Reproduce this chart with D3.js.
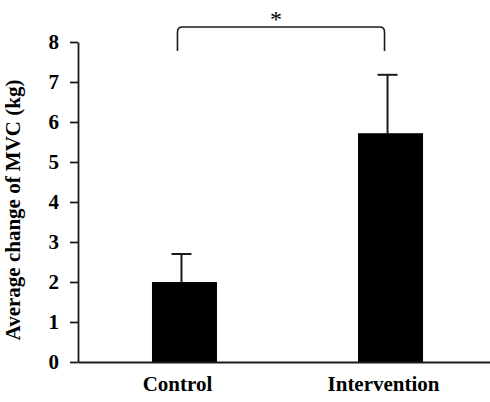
<!DOCTYPE html>
<html>
<head>
<meta charset="utf-8">
<script src="https://cdn.jsdelivr.net/npm/d3@7"></script>
<style>
  body { margin: 0; background: #fff; }
  svg text { font-family: "Liberation Serif", "Times New Roman", serif; }
</style>
</head>
<body>
<div id="chart"></div>
<script>
// chart data
const groups = ["Control", "Intervention"];
const means = [2.0, 5.72];
const errors = [0.7, 1.46];
const yTicks = [0, 1, 2, 3, 4, 5, 6, 7, 8];
const yLabel = "Average change of MVC (kg)";
const sigMark = "*";

const width = 490;
const height = 402;
const marginLeft = 78;
const marginTop = 42;
const marginBottom = 40;

const svg = d3.select("#chart")
    .append("svg")
    .attr("width", width)
    .attr("height", height)
    .attr("viewBox", [0, 0, width, height]);

const x = d3.scaleBand(groups, [marginLeft, 497])
    .paddingInner(0.6845)
    .paddingOuter(0.359);
const y = d3.scaleLinear([0, 8], [height - marginBottom, marginTop]);

// bars
svg.append("g")
    .selectAll("rect")
    .data(groups)
    .join("rect")
    .attr("x", d => x(d))
    .attr("y", (d, i) => y(means[i]))
    .attr("width", x.bandwidth())
    .attr("height", (d, i) => y(0) - y(means[i]))
    .attr("fill", "#000");

// error bars (upper only)
const eb = svg.append("g")
    .attr("stroke", "#1a1a1a")
    .attr("stroke-width", 2);
groups.forEach((g, i) => {
    const cx = x(g) + x.bandwidth() / 2 - 3;
    eb.append("line")
        .attr("x1", cx).attr("x2", cx)
        .attr("y1", y(means[i])).attr("y2", y(means[i] + errors[i]));
    eb.append("line")
        .attr("x1", cx - 10).attr("x2", cx + 10)
        .attr("y1", y(means[i] + errors[i])).attr("y2", y(means[i] + errors[i]));
});

// x axis
svg.append("g")
    .attr("transform", `translate(0,${y(0)})`)
    .call(d3.axisBottom(x).tickSize(0).tickSizeOuter(0).tickPadding(14))
    .call(g => g.select(".domain").attr("stroke", "#1a1a1a").attr("stroke-width", 1.8))
    .call(g => g.selectAll(".tick text")
        .attr("fill", "#000")
        .attr("dx", -7)
        .attr("font-size", 21)
        .attr("font-weight", "bold")
        .attr("font-family", "Liberation Serif, Times New Roman, serif"));

// y axis
svg.append("g")
    .attr("transform", `translate(${marginLeft},0)`)
    .call(d3.axisLeft(y).tickValues(yTicks).tickFormat(d3.format("d")).tickSize(8).tickSizeOuter(0).tickPadding(11))
    .call(g => g.select(".domain").attr("stroke", "#1a1a1a").attr("stroke-width", 1.8))
    .call(g => g.selectAll(".tick line").attr("stroke", "#1a1a1a").attr("stroke-width", 1.8))
    .call(g => g.selectAll(".tick text")
        .attr("fill", "#000")
        .attr("font-size", 21)
        .attr("font-weight", "bold")
        .attr("font-family", "Liberation Serif, Times New Roman, serif"));

svg.append("text")
    .attr("transform", `translate(20,${(y(0) + y(8)) / 2 + 8}) rotate(-90)`)
    .attr("text-anchor", "middle")
    .attr("font-size", 21)
    .attr("font-weight", "bold")
    .attr("fill", "#000")
    .text(yLabel);

// significance bracket
const bx1 = x(groups[0]) + x.bandwidth() / 2 - 7;
const bx2 = x(groups[1]) + x.bandwidth() / 2 - 6;
const by = 27;
const bottomY = 51;
svg.append("path")
    .attr("d", `M${bx1},${bottomY} L${bx1},${by + 5} Q${bx1},${by} ${bx1 + 5},${by}
                L${bx2 - 5},${by} Q${bx2},${by} ${bx2},${by + 5} L${bx2},${bottomY}`)
    .attr("fill", "none")
    .attr("stroke", "#1a1a1a")
    .attr("stroke-width", 1.6);

svg.append("text")
    .attr("x", (bx1 + bx2) / 2 - 5)
    .attr("y", 27)
    .attr("text-anchor", "middle")
    .attr("font-size", 24)
    .attr("fill", "#000")
    .text(sigMark);
</script>
</body>
</html>
